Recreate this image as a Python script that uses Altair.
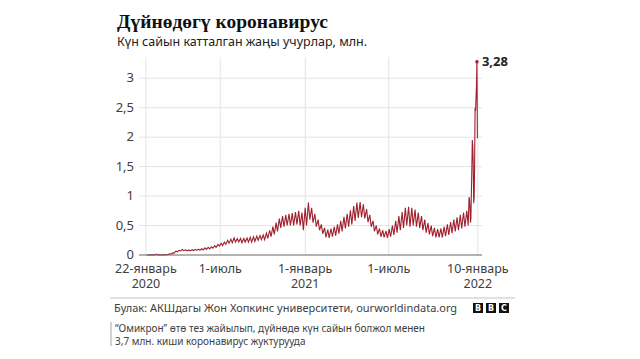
import altair as alt
import pandas as pd

# ---- data, values in millions ----
start_date = "2020-01-22"
week_high = [0.001, 0.003, 0.004, 0.016, 0.003, 0.003, 0.008, 0.02, 0.035, 0.065,
             0.08, 0.095, 0.088, 0.085, 0.09, 0.095, 0.1, 0.105, 0.12, 0.13,
             0.14, 0.16, 0.18, 0.2, 0.22, 0.25, 0.27, 0.29, 0.28, 0.28,
             0.28, 0.29, 0.3, 0.31, 0.32, 0.33, 0.34, 0.37, 0.42, 0.48,
             0.55, 0.62, 0.66, 0.68, 0.7, 0.71, 0.73, 0.75, 0.72, 0.8,
             0.89, 0.8, 0.7, 0.6, 0.52, 0.46, 0.43, 0.45, 0.48, 0.52,
             0.58, 0.65, 0.7, 0.76, 0.83, 0.89, 0.9, 0.86, 0.78, 0.68,
             0.58, 0.5, 0.45, 0.42, 0.41, 0.44, 0.5, 0.58, 0.66, 0.73,
             0.8, 0.82, 0.8, 0.77, 0.72, 0.66, 0.6, 0.54, 0.5, 0.46,
             0.44, 0.45, 0.48, 0.52, 0.56, 0.6, 0.64, 0.68, 0.72, 0.75]
week_low = [0.0005, 0.002, 0.002, 0.002, 0.001, 0.002, 0.005, 0.015, 0.03, 0.055,
            0.07, 0.075, 0.072, 0.07, 0.075, 0.078, 0.08, 0.085, 0.095, 0.105,
            0.115, 0.13, 0.15, 0.16, 0.18, 0.2, 0.21, 0.22, 0.22, 0.21,
            0.22, 0.22, 0.22, 0.23, 0.25, 0.26, 0.26, 0.28, 0.31, 0.35,
            0.4, 0.46, 0.48, 0.5, 0.5, 0.5, 0.52, 0.5, 0.42, 0.5,
            0.6, 0.55, 0.48, 0.42, 0.36, 0.3, 0.29, 0.31, 0.33, 0.36,
            0.4, 0.45, 0.48, 0.52, 0.58, 0.63, 0.64, 0.62, 0.56, 0.48,
            0.4, 0.35, 0.31, 0.3, 0.29, 0.31, 0.34, 0.38, 0.42, 0.46,
            0.5, 0.48, 0.5, 0.48, 0.46, 0.42, 0.38, 0.35, 0.32, 0.3,
            0.3, 0.3, 0.32, 0.34, 0.37, 0.4, 0.42, 0.45, 0.48, 0.5]
tail_start = "2021-12-22"
tail_values = [0.98, 0.95, 0.8, 0.55, 0.62, 1.05, 1.45, 1.95, 1.85, 1.55,
               0.88, 0.98, 1.5, 2.5, 2.45, 2.65, 2.88, 3.28, 1.98]

tick_dates = ["2020-01-22", "2020-07-01", "2021-01-01", "2021-07-01", "2022-01-10"]
tick_line1 = ["22-январь", "1-июль", "1-январь", "1-июль", "10-январь"]
year_dates = ["2020-01-22", "2021-01-01", "2022-01-10"]
year_labels = ["2020", "2021", "2022"]
y_ticks = [0, 0.5, 1, 1.5, 2, 2.5, 3]
y_labels = ["0", "0,5", "1", "1,5", "2", "2,5", "3"]

title_text = "Дүйнөдөгү коронавирус"
subtitle_text = "Күн сайын катталган жаңы учурлар, млн."
source_text = "Булак: АКШдагы Жон Хопкинс университети, ourworldindata.org"
note_lines = ["“Омикрон” өтө тез жайылып, дүйнөдө күн сайын болжол менен",
              "3,7 млн. киши коронавирус жуктурууда"]
peak_label = "3,28"

# ---- build tables ----
rows = []
s = pd.Timestamp(start_date)
for i, (h, l) in enumerate(zip(week_high, week_low)):
    rows.append((s + pd.Timedelta(days=7 * i + 2), h))
    rows.append((s + pd.Timedelta(days=7 * i + 5), l))
t0 = pd.Timestamp(tail_start)
for k, v in enumerate(tail_values):
    rows.append((t0 + pd.Timedelta(days=k), v))
df = pd.DataFrame(rows, columns=["date", "value"])
df["date"] = df["date"].dt.strftime("%Y-%m-%dT00:00:00")

imax = df["value"].idxmax()
peak_df = pd.DataFrame({"date": [df.loc[imax, "date"]], "value": [df.loc[imax, "value"]],
                        "label": [peak_label]})
ticks_df = pd.DataFrame({"date": [d + "T00:00:00" for d in tick_dates], "l1": tick_line1})
years_df = pd.DataFrame({"date": [d + "T00:00:00" for d in year_dates], "l2": year_labels})
yt_df = pd.DataFrame({"v": y_ticks, "lab": y_labels,
                      "zero": [v == 0 for v in y_ticks]})

W, H = 343, 198
FONT = "Noto Sans"
GREY = "#404040"
RED = "#a01f2e"

xscale = alt.Scale(domain=[alt.DateTime(year=2020, month=1, date=7),
                           alt.DateTime(year=2022, month=1, date=19)])
yscale = alt.Scale(domain=[0, 3.36], nice=False)

X = alt.X("date:T", scale=xscale, axis=None)

vgrid = alt.Chart(ticks_df).mark_rule(color="#e4e4e4", strokeWidth=1).encode(
    x=X, y=alt.value(0), y2=alt.value(H))

hgrid = alt.Chart(yt_df).transform_filter("!datum.zero").mark_rule(
    color="#e4e4e4", strokeWidth=1).encode(
    y=alt.Y("v:Q", scale=yscale, axis=None), x=alt.value(0), x2=alt.value(W))

ylabs = alt.Chart(yt_df).mark_text(
    align="right", baseline="middle", fontSize=13, font=FONT, color=GREY).encode(
    y=alt.Y("v:Q", scale=yscale, axis=None), x=alt.value(-5), text="lab:N")

xlab1 = alt.Chart(ticks_df).mark_text(
    baseline="alphabetic", align="center", fontSize=12.5, font=FONT, color=GREY).encode(
    x=X, y=alt.value(216), text="l1:N")
xlab2 = alt.Chart(years_df).mark_text(
    baseline="alphabetic", align="center", fontSize=12.5, font=FONT, color=GREY).encode(
    x=X, y=alt.value(231), text="l2:N")

line = alt.Chart(df).mark_line(color=RED, strokeWidth=1.1).encode(
    x=X, y=alt.Y("value:Q", scale=yscale, axis=None))

zero = alt.Chart(yt_df).transform_filter("datum.zero").mark_rule(
    color="#666666", strokeWidth=1).encode(
    y=alt.Y("v:Q", scale=yscale, axis=None), x=alt.value(0), x2=alt.value(W))

peak_pt = alt.Chart(peak_df).mark_point(filled=True, color=RED, size=12, opacity=1).encode(
    x=X, y=alt.Y("value:Q", scale=yscale, axis=None))
peak_txt = alt.Chart(peak_df).mark_text(
    align="left", baseline="middle", dx=5, fontSize=13, fontWeight="bold",
    font=FONT, color="#222222").encode(
    x=X, y=alt.Y("value:Q", scale=yscale, axis=None), text="label:N")

one = pd.DataFrame({"a": [0]})


def txt(text, x, y, size, weight="normal", font=FONT, color=GREY, align="left", base="alphabetic"):
    return alt.Chart(pd.DataFrame({"t": [text]})).mark_text(
        align=align, baseline=base, fontSize=size, fontWeight=weight,
        font=font, color=color).encode(x=alt.value(x), y=alt.value(y), text="t:N")


def box(x0):
    return alt.Chart(one).mark_rect(color="#111111").encode(
        x=alt.value(x0), x2=alt.value(x0 + 10), y=alt.value(246), y2=alt.value(256))


title = txt(title_text, -22, -29, 19.5, "bold", "Liberation Serif", "#111111")
subtitle = txt(subtitle_text, -22, -11, 12.5, "normal", FONT, "#222222")

footer_rule = alt.Chart(one).mark_rule(color="#c4c4c4", strokeWidth=1.2).encode(
    x=alt.value(-29), x2=alt.value(376), y=alt.value(241))
source = txt(source_text, -25, 255, 11)

logo = [box(334), box(347), box(360),
        txt("B", 339, 251.5, 8, "bold", "DejaVu Sans", "#ffffff", "center", "middle"),
        txt("B", 352, 251.5, 8, "bold", "DejaVu Sans", "#ffffff", "center", "middle"),
        txt("C", 365, 251.5, 8, "bold", "DejaVu Sans", "#ffffff", "center", "middle")]

note_bar = alt.Chart(one).mark_rule(color="#c4c4c4", strokeWidth=1.5).encode(
    x=alt.value(-28), y=alt.value(265), y2=alt.value(289))
note1 = txt(note_lines[0], -24, 274.5, 10)
note2 = txt(note_lines[1], -24, 288, 10)

chart = alt.layer(
    vgrid, hgrid, ylabs, line, zero, xlab1, xlab2, peak_pt, peak_txt, title, subtitle,
    footer_rule, source, *logo, note_bar, note1, note2
).properties(
    width=W, height=H,
    autosize=alt.AutoSizeParams(type="none"),
    padding={"left": 131, "top": 49, "right": 150, "bottom": 96},
    background="#ffffff"
).configure_view(strokeWidth=0)

chart.save("out.html", embed_options={"renderer": "svg", "actions": False})
